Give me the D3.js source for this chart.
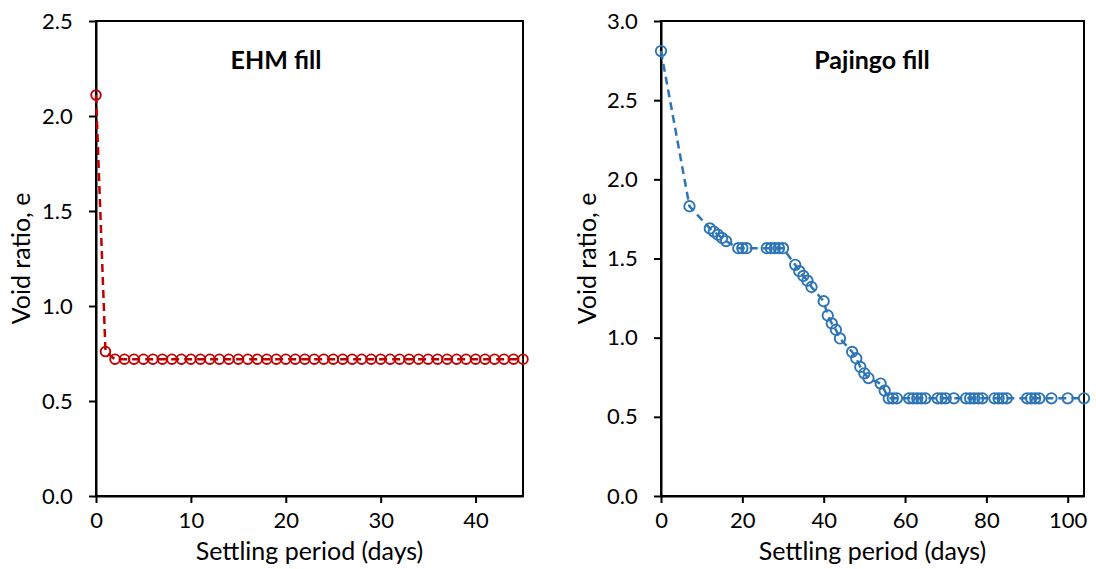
<!DOCTYPE html>
<html><head><meta charset="utf-8">
<script src="https://cdn.jsdelivr.net/npm/d3@7"></script>
<style>body{margin:0;background:#fff}svg{display:block}text{font-family:Lato,"Open Sans",sans-serif;fill:#000}</style>
</head><body><svg id="c" width="1096" height="569"></svg>
<script>
// EHM fill data
const ehmDays = [0,1,2,3,4,5,6,7,8,9,10,11,12,13,14,15,16,17,18,19,20,21,22,23,24,25,26,27,28,29,30,31,32,33,34,35,36,37,38,39,40,41,42,43,44,45];
const ehmVoid = [2.11,0.76,0.72,0.72,0.72,0.72,0.72,0.72,0.72,0.72,0.72,0.72,0.72,0.72,0.72,0.72,0.72,0.72,0.72,0.72,0.72,0.72,0.72,0.72,0.72,0.72,0.72,0.72,0.72,0.72,0.72,0.72,0.72,0.72,0.72,0.72,0.72,0.72,0.72,0.72,0.72,0.72,0.72,0.72,0.72,0.72];
// Pajingo fill data
const pajDays = [0,7,12,13,14,15,16,19,20,21,26,27,28,29,30,33,34,35,36,37,40,41,42,43,44,47,48,49,50,51,54,55,56,57,58,61,62,63,64,65,68,69,70,72,75,76,77,78,79,82,83,84,85,90,91,92,93,96,100,104];
const pajVoid = [2.81,1.83,1.69,1.67,1.65,1.63,1.61,1.565,1.565,1.565,1.565,1.565,1.565,1.565,1.565,1.46,1.42,1.39,1.36,1.32,1.23,1.14,1.09,1.05,0.995,0.91,0.87,0.815,0.775,0.745,0.71,0.665,0.617,0.617,0.617,0.617,0.617,0.617,0.617,0.617,0.617,0.617,0.617,0.617,0.617,0.617,0.617,0.617,0.617,0.617,0.617,0.617,0.617,0.617,0.617,0.617,0.617,0.617,0.617,0.617];
// Tick labels
const ehmXTicks = [0,10,20,30,40];
const ehmYTicks = [0,0.5,1.0,1.5,2.0,2.5];
const pajXTicks = [0,20,40,60,80,100];
const pajYTicks = [0,0.5,1.0,1.5,2.0,2.5,3.0];

const svg = d3.select("#c");

function panel(o){
  const g = svg.append("g");
  const x = d3.scaleLinear().domain(o.xDom).range([o.x0,o.x1]);
  const y = d3.scaleLinear().domain(o.yDom).range([o.y1,o.y0]);
  g.append("rect").attr("x",o.x0).attr("y",o.y0).attr("width",o.x1-o.x0).attr("height",o.y1-o.y0)
    .attr("fill","none").attr("stroke","#000").attr("stroke-width",2);
  const xa = g.append("g").attr("transform",`translate(0,${o.y1})`)
    .call(d3.axisBottom(x).tickValues(o.xTicks).tickSize(7).tickSizeOuter(0).tickFormat(d3.format("d")));
  const ya = g.append("g").attr("transform",`translate(${o.x0},0)`)
    .call(d3.axisLeft(y).tickValues(o.yTicks).tickSize(7).tickSizeOuter(0).tickFormat(d3.format(".1f")));
  [xa,ya].forEach(a=>{
    a.select(".domain").attr("stroke","#000").attr("stroke-width",2);
    a.selectAll(".tick line").attr("stroke","#000").attr("stroke-width",2);
    a.selectAll(".tick text").attr("font-size",22).attr("font-family","Lato").attr("fill","#000");
  });
  xa.selectAll(".tick text").attr("dy","1.0em");
  ya.selectAll(".tick text").attr("dx","-0.6em");
  const pts = o.days.map((d,i)=>[d,o.vals[i]]);
  g.append("path").datum(pts).attr("fill","none").attr("stroke",o.color).attr("stroke-width",2.5)
    .attr("stroke-dasharray","8,5").attr("d",d3.line().x(d=>x(d[0])).y(d=>y(d[1])));
  g.selectAll("circle.m").data(pts).enter().append("circle").attr("class","m")
    .attr("cx",d=>x(d[0])).attr("cy",d=>y(d[1])).attr("r",o.r)
    .attr("fill","none").attr("stroke",o.color).attr("stroke-width",1.9);
  g.append("text").attr("x",o.titleX).attr("y",69).attr("text-anchor","middle")
    .attr("font-size",25).attr("font-weight","bold").text(o.title);
  g.append("text").attr("x",(o.x0+o.x1)/2).attr("y",560).attr("text-anchor","middle")
    .attr("font-size",25).text("Settling period (days)");
  g.append("text").attr("transform",`translate(${o.ylabX},${(o.y0+o.y1)/2}) rotate(-90)`)
    .attr("text-anchor","middle").attr("font-size",25).text("Void ratio, e");
}

panel({x0:96,x1:523,y0:21,y1:496,xDom:[0,45],yDom:[0,2.5],xTicks:ehmXTicks,yTicks:ehmYTicks,
  days:ehmDays,vals:ehmVoid,color:"#C00000",r:4.8,title:"EHM fill",titleX:276,ylabX:30});
panel({x0:661,x1:1084,y0:21,y1:496,xDom:[0,104],yDom:[0,3],xTicks:pajXTicks,yTicks:pajYTicks,
  days:pajDays,vals:pajVoid,color:"#2E75B6",r:5.2,title:"Pajingo fill",titleX:872,ylabX:596});
</script></body></html>
